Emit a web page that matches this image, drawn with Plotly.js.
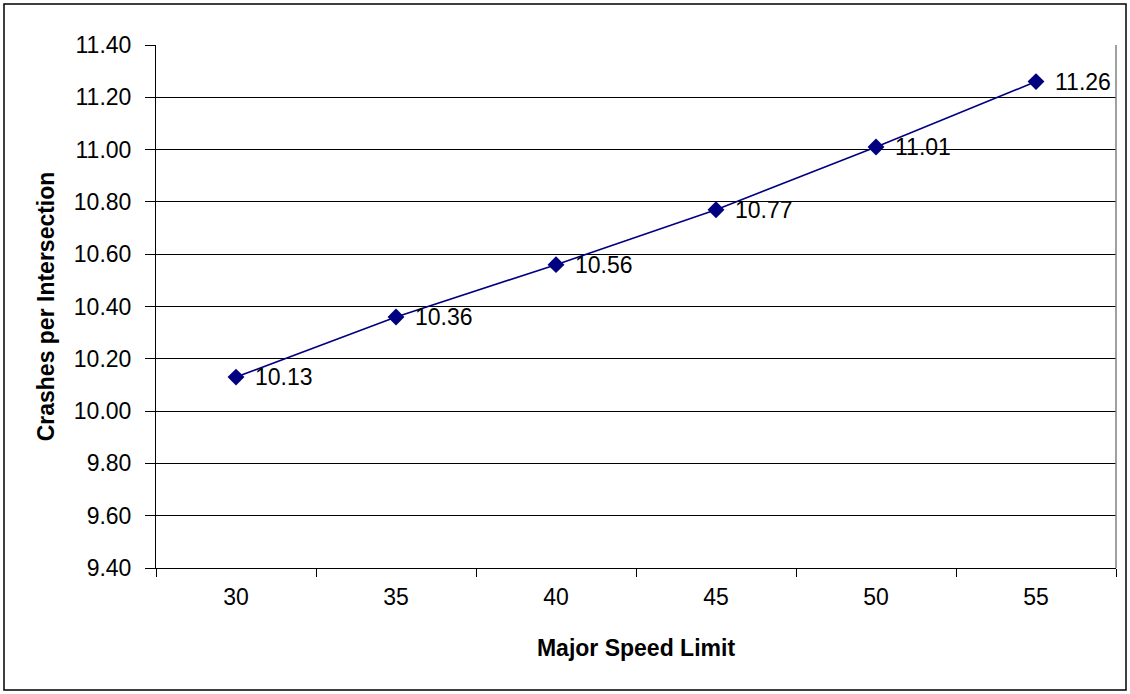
<!DOCTYPE html>
<html>
<head>
<meta charset="utf-8">
<script src="https://cdn.plot.ly/plotly-3.0.1.min.js"></script>
<style>html,body{margin:0;padding:0;background:#fff;}</style>
</head>
<body>
<div id="chart" style="width:1130px;height:694px;"></div>
<script>
// Speed limit categories and crash rates
const speedLimits = ["30", "35", "40", "45", "50", "55"];
const crashesPerIntersection = [10.13, 10.36, 10.56, 10.77, 11.01, 11.26];

const W = 1130, H = 694;
const M = {l: 156, r: 14, t: 45, b: 126};
const pw = W - M.l - M.r, ph = H - M.t - M.b;
const px = v => (v - M.l) / pw;
const py = v => 1 - (v - M.t) / ph;
const FONT = 'Liberation Sans, Arial, sans-serif';

const trace = {
  x: speedLimits,
  y: crashesPerIntersection,
  type: 'scatter',
  mode: 'lines+markers',
  line: {color: '#000080', width: 1.6},
  marker: {symbol: 'diamond', size: 13, color: '#000080'},
  cliponaxis: false,
  hoverinfo: 'x+y'
};

// value labels to the right of each point (category index positions)
const valueLabels = speedLimits.map((s, i) => ({
  x: i, y: crashesPerIntersection[i], xref: 'x', yref: 'y',
  text: crashesPerIntersection[i].toFixed(2),
  showarrow: false, xanchor: 'left', yanchor: 'middle', xshift: 17,
  font: {family: FONT, size: 23, color: '#000'}
}));

const layout = {
  width: W, height: H,
  margin: M,
  paper_bgcolor: '#fff',
  plot_bgcolor: '#fff',
  showlegend: false,
  font: {family: FONT, size: 23, color: '#000'},
  xaxis: {
    type: 'category',
    range: [-0.5, 5.5],
    tickson: 'boundaries',
    ticks: 'outside',
    ticklen: 8,
    tickcolor: '#000',
    ticklabelstandoff: 8,
    showline: true,
    linecolor: '#000',
    linewidth: 1,
    showgrid: false,
    zeroline: false,
    tickfont: {size: 23},
    title: {text: '<b>Major Speed Limit</b>', font: {size: 23}, standoff: 31}
  },
  yaxis: {
    range: [9.4, 11.4],
    dtick: 0.2,
    tick0: 9.4,
    tickformat: '.2f',
    ticks: 'outside',
    ticklen: 10,
    tickcolor: '#000',
    ticklabelstandoff: 9,
    showline: true,
    linecolor: '#000',
    linewidth: 1,
    showgrid: true,
    gridcolor: '#000',
    gridwidth: 1,
    zeroline: false,
    tickfont: {size: 23},
    title: {text: '<b>Crashes per Intersection</b>', font: {size: 23}, standoff: 12}
  },
  annotations: valueLabels,
  shapes: [
    // right edge of the plot area
    {type: 'line', xref: 'paper', yref: 'paper', x0: 1, x1: 1, y0: 0, y1: 1,
     line: {color: '#808080', width: 1.5}},
    // outer chart frame
    {type: 'rect', xref: 'paper', yref: 'paper',
     x0: px(4), x1: px(1126), y0: py(690), y1: py(4),
     line: {color: '#000', width: 1.5}, fillcolor: 'rgba(0,0,0,0)', layer: 'below'}
  ]
};

Plotly.newPlot('chart', [trace], layout, {displayModeBar: false, staticPlot: true});
</script>
</body>
</html>
